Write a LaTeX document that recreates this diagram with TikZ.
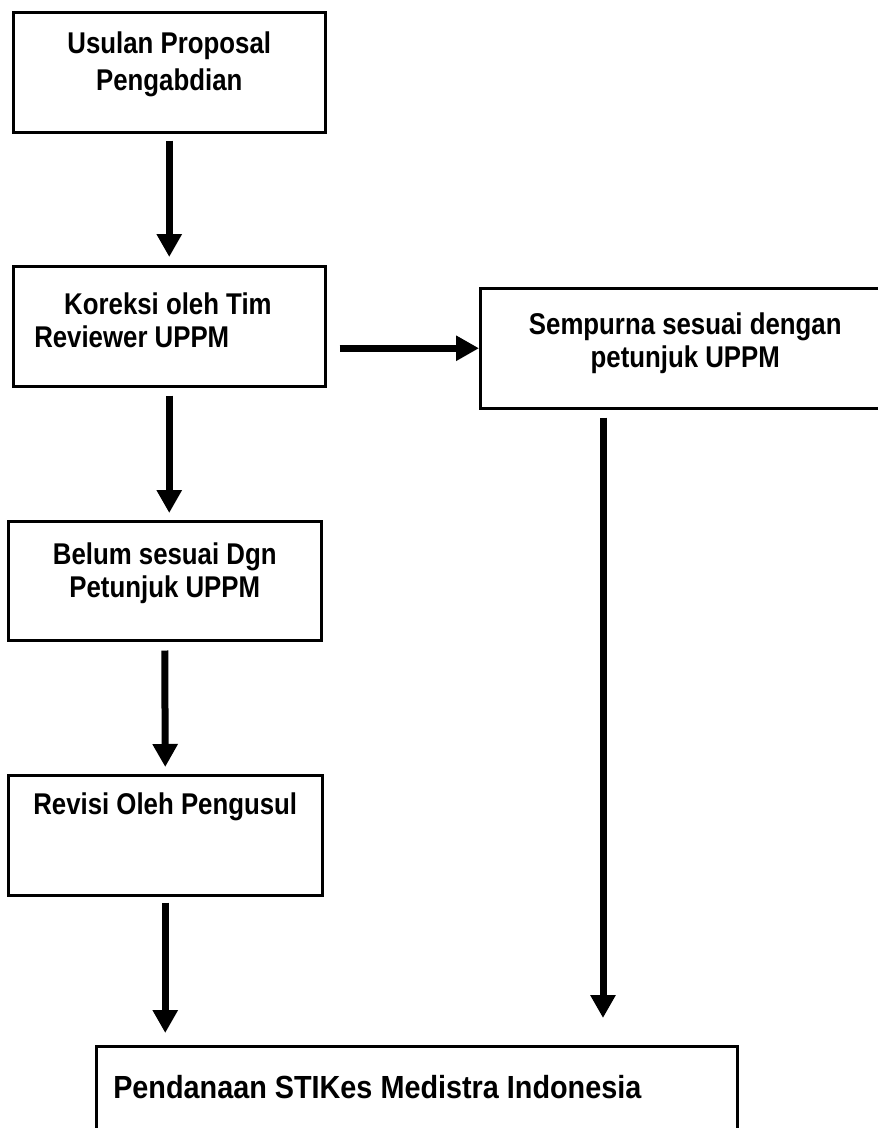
\documentclass[tikz,border=0pt]{standalone}
\usepackage{fontspec}
\newfontfamily\flowfont{Liberation Sans}[FakeStretch=0.86]
\newfontfamily\fundfont{Liberation Sans}[FakeStretch=0.9]
\usetikzlibrary{arrows.meta,calc}

% box text: height, width, top gap, lines
\newcommand{\boxtext}[4]{\parbox[c][#1][t]{#2}{\centering\vspace*{#3}#4}}

\tikzset{
  box/.style={draw, line width=2.5pt, inner sep=0pt, anchor=north west,
    font=\flowfont\bfseries\fontsize{30}{33}\selectfont},
  flow/.style={line width=7pt, -{Triangle[length=23pt,width=24pt]}}
}

\begin{document}
\begin{tikzpicture}[x=1pt,y=-1pt]
\useasboundingbox (0,0) rectangle (878,1128);

\node[box] (usulan) at (12,11) {\boxtext{120pt}{312pt}{20pt}{Usulan Proposal\\[4pt]Pengabdian}};
\node[box] (koreksi) at (12,265) {\boxtext{120pt}{312pt}{27pt}{\raggedright\leftskip=21pt\hspace*{30pt}Koreksi oleh Tim\\Reviewer UPPM}};
\node[box] (sempurna) at (479,287) {\boxtext{120pt}{410pt}{25pt}{Sempurna sesuai dengan\\petunjuk UPPM}};
\node[box] (belum) at (7,520) {\boxtext{119pt}{313pt}{22pt}{Belum sesuai Dgn\\Petunjuk UPPM}};
\node[box] (revisi) at (7,774) {\boxtext{120pt}{314pt}{18pt}{Revisi Oleh Pengusul}};
\node[box, font=\fundfont\bfseries\fontsize{32}{38}\selectfont] (pendanaan) at (95,1045)
  {\boxtext{100pt}{641pt}{29pt}{\raggedright\leftskip=17pt Pendanaan STIKes Medistra Indonesia}};

\draw[flow] ([yshift=-7pt]usulan.south) -- ([yshift=8pt]koreksi.north);
\draw[flow] ($(koreksi.east |- sempurna.west)+(13,0)$) -- (sempurna.west);
\draw[flow] ([yshift=-8pt]koreksi.south) -- ($(koreksi.south |- belum.north)+(0,-7)$);
\draw[flow] ([yshift=-9pt]belum.south) -- ([yshift=7pt]revisi.north);
\draw[flow] ([yshift=-6pt]revisi.south) -- ($(revisi.south |- pendanaan.north)+(0,-12)$);
\draw[flow] ($(sempurna.south west)+(124,8)$) -- ($(sempurna.south west |- pendanaan.north)+(124,-27)$);

\end{tikzpicture}
\end{document}
